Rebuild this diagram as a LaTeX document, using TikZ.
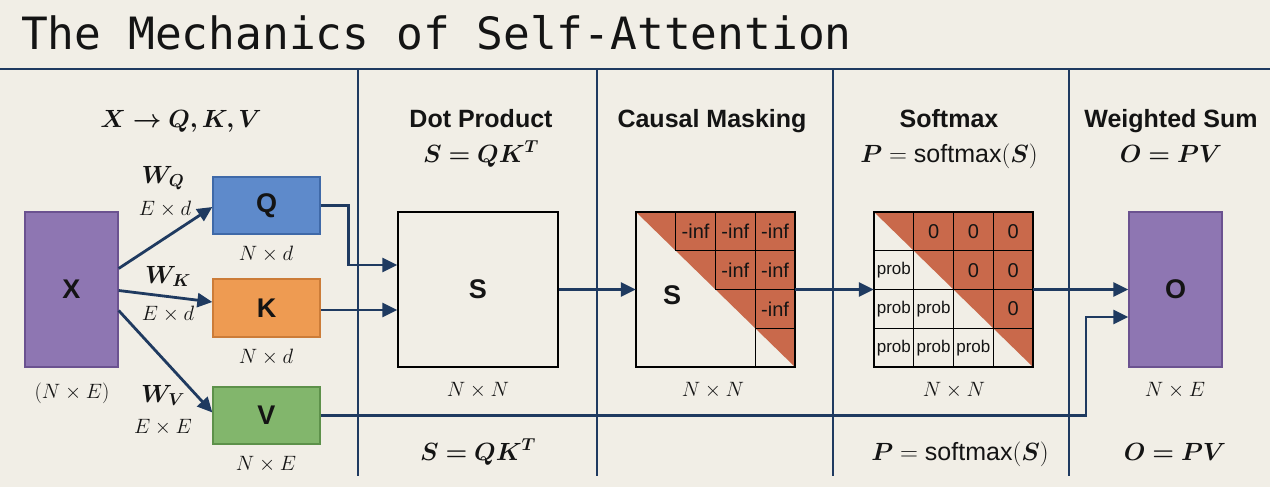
\documentclass[tikz,border=0pt]{standalone}
\usepackage{amsmath,bm}
\usepackage[no-math]{fontspec}
\setmainfont{Liberation Sans}
\newfontfamily\titlefont{DejaVu Sans Mono}
\usetikzlibrary{arrows.meta,calc}
\definecolor{bg}{HTML}{F1EEE6}
\definecolor{navy}{HTML}{1F3A60}
\definecolor{purp}{HTML}{8E76B2}
\definecolor{purpd}{HTML}{6B5290}
\definecolor{qblue}{HTML}{5E8ACB}
\definecolor{qblued}{HTML}{3F69A8}
\definecolor{korange}{HTML}{EE9B52}
\definecolor{koranged}{HTML}{CC7C38}
\definecolor{vgreen}{HTML}{82B66C}
\definecolor{vgreend}{HTML}{5D914A}
\definecolor{maskc}{HTML}{C9694B}
\definecolor{ink}{HTML}{141414}
\tikzset{
  boxlbl/.style={font=\bfseries\fontsize{27}{30}\selectfont, text=ink, inner sep=0pt},
  mbox/.style={boxlbl, draw, line width=1.3pt, minimum width=#1, inner sep=0pt},
  conn/.style={navy, line width=2.8pt, -{Triangle[length=15pt,width=14pt]}},
  sepline/.style={navy, line width=1.6pt},
  head/.style={font=\bfseries\fontsize{25}{30}\selectfont, text=ink, anchor=base, inner sep=0pt},
  mhead/.style={font=\fontsize{25}{30}\selectfont, text=ink, anchor=base, inner sep=0pt},
  dim/.style={font=\fontsize{21}{24}\selectfont, text=ink, anchor=base, inner sep=0pt},
  wlbl/.style={font=\fontsize{25}{28}\selectfont, text=ink, anchor=base, inner sep=0pt},
  cell/.style={font=\fontsize{20}{22}\selectfont, text=ink, inner sep=0pt},
  pcell/.style={font=\fontsize{17}{20}\selectfont, text=ink, inner sep=0pt},
  gridl/.style={black, line width=0.9pt}
}
\begin{document}
\begin{tikzpicture}[x=1pt,y=-1pt]
\fill[bg] (0,0) rectangle (1270,487);
\useasboundingbox (0,0) rectangle (1270,487);

% title
\node[anchor=base west, inner sep=0pt, font=\titlefont\fontsize{44.5}{50}\selectfont, text=ink] (title) at (21,50) {The Mechanics of Self-Attention};

% separators
\draw[navy, line width=2pt] (0,69) -- (1270,69);
\foreach \sx in {358,597,833,1069} \draw[sepline] (\sx,69) -- (\sx,476);

% headings
\node[mhead] (h1) at (181,127) {$\bm{X \rightarrow Q,K,V}$};
\node[head] (h2) at (481,127) {Dot Product};
\node[mhead] (h2m) at (481,162) {$\bm{S = QK^T}$};
\node[head] (h3) at (712,127) {Causal Masking};
\node[head] (h4) at (949,127) {Softmax};
\node[mhead] (h4m) at (949,162) {$\bm{P} = \text{softmax}(\bm{S})$};
\node[head] (h5) at (1171,127) {Weighted Sum};
\node[mhead] (h5m) at (1171,162) {$\bm{O = PV}$};

% bottom formulas
\node[mhead] (b2) at (478,460) {$\bm{S = QK^T}$};
\node[mhead] (b4) at (960,460) {$\bm{P} = \text{softmax}(\bm{S})$};
\node[mhead] (b5) at (1175,460) {$\bm{O = PV}$};

% boxes
\node[mbox=93pt, minimum height=155pt, fill=purp, draw=purpd] (X) at (71.5,289.5) {X};
\node[mbox=107pt, minimum height=57pt, fill=qblue, draw=qblued] (Q) at (266.5,205.5) {Q};
\node[mbox=107pt, minimum height=58pt, fill=korange, draw=koranged] (K) at (266.5,308) {K};
\node[mbox=107pt, minimum height=57pt, fill=vgreen, draw=vgreend] (V) at (266.5,415.5) {V};
\node[mbox=160pt, minimum height=155pt, fill=bg, draw=black] (S) at (478,289.5) {S};
\node[mbox=93pt, minimum height=155pt, fill=purp, draw=purpd] (O) at (1175.5,289.5) {O};

% dimension labels
\node[dim] (dX) at (72,398) {$(N\times E)$};
\node[dim] (dQ) at (266,260) {$N\times d$};
\node[dim] (dK) at (266,363) {$N\times d$};
\node[dim] (dV) at (266,470) {$N\times E$};
\node[dim] (dS) at (478,396) {$N\times N$};
\node[dim] (dM) at (713,396) {$N\times N$};
\node[dim] (dP) at (954,396) {$N\times N$};
\node[dim] (dO) at (1175,396) {$N\times E$};

% mask matrix
\node[draw=none, minimum width=159pt, minimum height=155pt, inner sep=0pt] (M) at (715.5,289.5) {};
\fill[maskc] (M.north west) -- (M.north east) -- (M.south east) -- cycle;
\draw[gridl] (675.75,212) -- (675.75,250.75);
\draw[gridl] (715.5,212) -- (715.5,289.5);
\draw[gridl] (755.25,212) -- (755.25,367);
\draw[gridl] (675.75,250.75) -- (795,250.75);
\draw[gridl] (715.5,289.5) -- (795,289.5);
\draw[gridl] (755.25,328.25) -- (795,328.25);
\draw[black, line width=1.5pt] (M.north west) rectangle (M.south east);
\foreach \r/\c in {0/1,0/2,0/3,1/2,1/3,2/3}
  \node[cell] at ({636+(\c+0.5)*39.75},{212+(\r+0.5)*38.75}) {-inf};
\node[boxlbl] (MS) at (672,295) {S};

% softmax matrix
\node[draw=none, minimum width=159pt, minimum height=155pt, inner sep=0pt] (P) at (953.5,289.5) {};
\fill[maskc] (P.north west) -- (P.north east) -- (P.south east) -- cycle;
\foreach \i in {1,2,3} {
  \draw[gridl] ({874+\i*39.75},212) -- ({874+\i*39.75},367);
  \draw[gridl] (874,{212+\i*38.75}) -- (1033,{212+\i*38.75});
}
\draw[black, line width=1.5pt] (P.north west) rectangle (P.south east);
\foreach \r/\c in {0/1,0/2,0/3,1/2,1/3,2/3}
  \node[cell] at ({874+(\c+0.5)*39.75},{212+(\r+0.5)*38.75}) {0};
\foreach \r/\c in {1/0,2/0,2/1,3/0,3/1,3/2}
  \node[pcell] at ({874+(\c+0.5)*39.75},{212+(\r+0.5)*38.75}) {prob};

% weight labels
\node[wlbl] (WQ) at (163,183) {$\bm{W_Q}$};
\node[dim] (eQ) at (165,215) {$E\times d$};
\node[wlbl] (WK) at (168,283) {$\bm{W_K}$};
\node[dim] (eK) at (168,320) {$E\times d$};
\node[wlbl] (WV) at (163,402) {$\bm{W_V}$};
\node[dim] (eV) at (163,433) {$E\times E$};

% connectors
\draw[conn] ($(X.east)+(0,-21)$) -- ($(Q.west)+(0,1.5)$);
\draw[conn] ($(X.east)+(0,1)$) -- ($(K.west)+(0,-6)$);
\draw[conn] ($(X.east)+(0,21)$) -- ($(V.west)+(0,-3)$);
\draw[conn] (Q.east) -- ++(28,0) |- ($(S.west)+(0,-24.5)$);
\draw[conn] ($(K.east)+(0,2)$) -- ($(S.west)+(0,20.5)$);
\draw[conn] (S.east) -- (M.west);
\draw[conn] (M.east) -- (P.west);
\draw[conn] (P.east) -- (O.west);
\coordinate (vturn) at (1086,415.5);
\draw[conn] (V.east) -- (vturn) |- ($(O.west)+(0,27.5)$);
\end{tikzpicture}
\end{document}
